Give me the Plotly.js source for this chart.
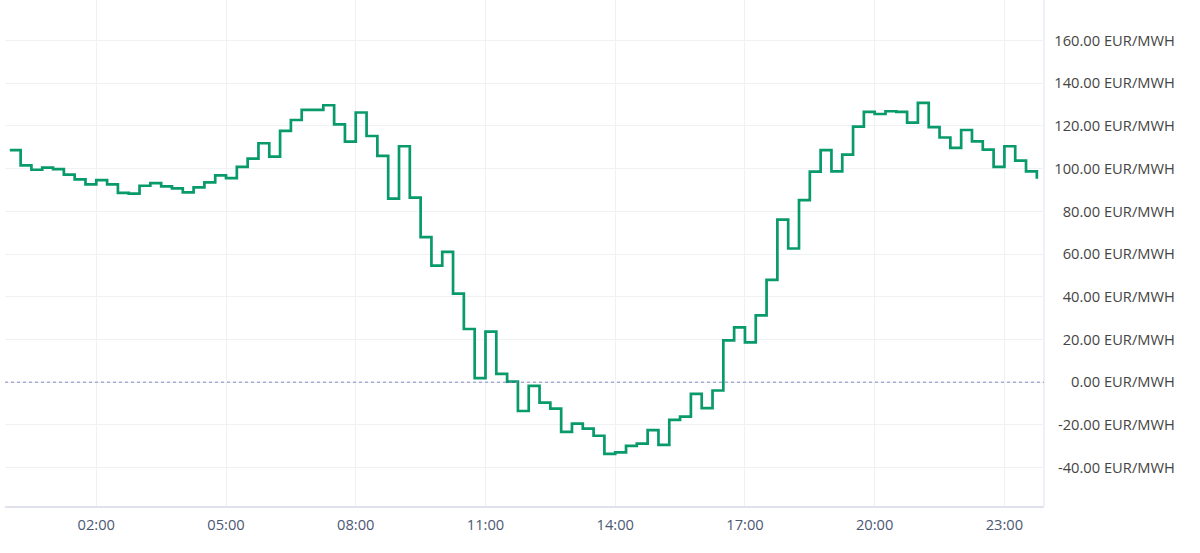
<!DOCTYPE html>
<html>
<head>
<meta charset="utf-8">
<script src="https://cdn.plot.ly/plotly-3.0.1.min.js"></script>
<style>
html,body{margin:0;padding:0;background:#fff;}
#chart{width:1200px;height:553px;}
</style>
</head>
<body>
<div id="chart"></div>
<script>
// 15-minute price intervals for one day (00:00 .. 23:45)
const day = '2024-01-01';
const prices = [
  108.7, 101.5, 99.5, 100.5, 99.8, 97.2, 95.0, 92.6,
  94.6, 92.6, 88.7, 88.3, 92.0, 93.2, 91.7, 90.8,
  88.9, 91.2, 93.6, 96.9, 95.6, 100.8, 104.7, 111.9,
  105.6, 117.7, 122.8, 127.5, 127.5, 129.7, 120.7, 112.7,
  126.3, 115.3, 106.0, 86.0, 110.5, 86.4, 67.9, 54.6,
  61.0, 41.5, 24.9, 1.9, 23.7, 3.9, 0.3, -13.5,
  -1.7, -9.6, -12.4, -23.3, -19.4, -21.8, -25.1, -33.6,
  -32.9, -29.8, -28.8, -22.5, -29.4, -17.7, -16.1, -5.5,
  -12.2, -3.9, 19.6, 25.7, 18.6, 31.3, 47.9, 76.1,
  62.6, 85.3, 98.6, 108.7, 98.7, 106.6, 119.7, 126.6,
  125.6, 126.9, 126.6, 121.6, 130.8, 119.5, 114.6, 109.7,
  118.1, 112.8, 108.9, 100.8, 110.5, 103.8, 98.7, 95.3
];
const times = prices.map((_, i) => {
  const m = i * 15;
  const hh = String(Math.floor(m / 60)).padStart(2, '0');
  const mm = String(m % 60).padStart(2, '0');
  return day + ' ' + hh + ':' + mm;
});
const yTicks = [-40, -20, 0, 20, 40, 60, 80, 100, 120, 140, 160];
const yTickText = yTicks.map(v => v.toFixed(2) + ' EUR/MWH');

const textColor = '#4c5874';
const gridColor = '#f0f1f5';

const trace = {
  x: times,
  y: prices,
  type: 'scatter',
  mode: 'lines',
  line: {shape: 'hv', color: '#089a6b', width: 2.7},
  hoverinfo: 'x+y'
};

const layout = {
  width: 1200,
  height: 553,
  margin: {l: 5, r: 0, t: 0, b: 47},
  paper_bgcolor: '#ffffff',
  plot_bgcolor: '#ffffff',
  showlegend: false,
  font: {family: 'Open Sans, sans-serif', size: 14.7, color: textColor},
  xaxis: {
    type: 'date',
    domain: [0, 0.8695],
    range: ['2023-12-31 23:53:20', '2024-01-01 23:55:00'],
    tick0: '2024-01-01 02:00',
    dtick: 3 * 3600000,
    tickformat: '%H:%M',
    showgrid: true,
    gridcolor: gridColor,
    gridwidth: 1,
    showline: true,
    linecolor: '#dfe2ea',
    linewidth: 1.5,
    ticks: '',
    ticklabelstandoff: 5,
    zeroline: false,
    fixedrange: true
  },
  yaxis: {
    anchor: 'free',
    position: 0.9815,
    side: 'right',
    ticklabelposition: 'inside',
    range: [-58, 179],
    tickvals: yTicks,
    ticktext: yTickText,
    showgrid: true,
    gridcolor: gridColor,
    gridwidth: 1,
    zeroline: false,
    showline: false,
    ticks: '',
    fixedrange: true
  },
  shapes: [
    {type: 'line', xref: 'paper', yref: 'y', x0: 0, x1: 0.8695, y0: 0, y1: 0,
     line: {color: '#8587c6', width: 1, dash: 'dot'}, layer: 'above'},
    {type: 'line', xref: 'paper', yref: 'paper', x0: 0.8695, x1: 0.8695, y0: 0, y1: 1,
     line: {color: '#e3e6ee', width: 1.2}, layer: 'between'}
  ]
};

Plotly.newPlot('chart', [trace], layout, {displayModeBar: false, staticPlot: true});
</script>
</body>
</html>
